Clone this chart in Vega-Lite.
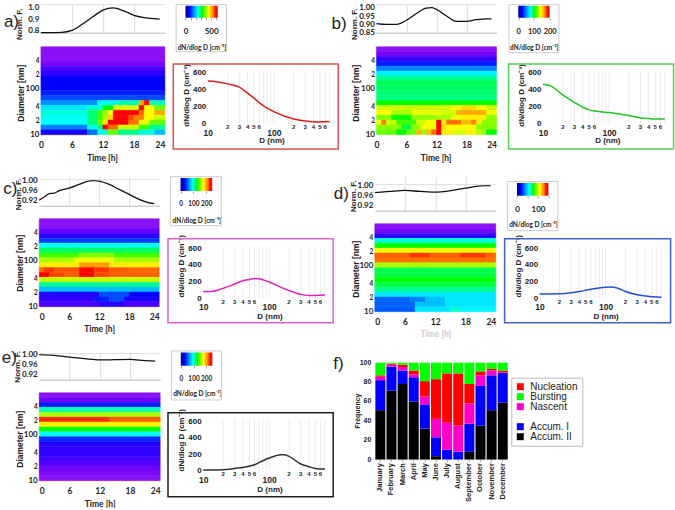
{
"$schema":"https://vega.github.io/schema/vega-lite/v6.json",
"background":"white",
"padding":{"left":1.2,"top":3.7,"right":0,"bottom":0},
"config":{"view":{"stroke":null},"axis":{"labelFont":"Lato","titleFont":"Lato","labelFontWeight":"bold","titleFontWeight":"bold","labelColor":"#222","titleColor":"#222","grid":false,"domain":false,"ticks":false,"tickCount":10}},
"datasets":{
"grid":[{"D":20,"n":"2"},{"D":30,"n":"3"},{"D":40,"n":"4"},{"D":50,"n":"5"},{"D":60,"n":"6"},{"D":70,"n":""},{"D":80,"n":""},{"D":90,"n":""},{"D":100,"n":""},{"D":200,"n":"2"},{"D":300,"n":"3"},{"D":400,"n":"4"},{"D":500,"n":"5"},{"D":600,"n":"6"},{"D":700,"n":""}],
"normA":[{"t":0,"f":0.78},{"t":2,"f":0.78},{"t":4,"f":0.782},{"t":6,"f":0.8},{"t":8,"f":0.855},{"t":10,"f":0.92},{"t":12,"f":0.98},{"t":14,"f":1},{"t":16,"f":0.975},{"t":18,"f":0.935},{"t":20,"f":0.915},{"t":22,"f":0.905},{"t":23,"f":0.9}],
"normB":[{"t":0,"f":0.905},{"t":2,"f":0.9},{"t":4,"f":0.9},{"t":6,"f":0.925},{"t":8,"f":0.965},{"t":10,"f":0.998},{"t":11,"f":1},{"t":12,"f":0.99},{"t":14,"f":0.95},{"t":16,"f":0.918},{"t":18,"f":0.918},{"t":20,"f":0.928},{"t":22,"f":0.933},{"t":23,"f":0.933}],
"normC":[{"t":0,"f":0.922},{"t":1,"f":0.935},{"t":2,"f":0.948},{"t":3,"f":0.95},{"t":4,"f":0.96},{"t":6,"f":0.97},{"t":8,"f":0.985},{"t":10,"f":0.999},{"t":11,"f":1},{"t":12,"f":0.998},{"t":14,"f":0.985},{"t":16,"f":0.965},{"t":18,"f":0.945},{"t":20,"f":0.925},{"t":22,"f":0.911},{"t":23,"f":0.908}],
"normD":[{"t":0,"f":0.972},{"t":3,"f":0.977},{"t":6,"f":0.981},{"t":9,"f":0.977},{"t":12,"f":0.974},{"t":15,"f":0.98},{"t":18,"f":0.99},{"t":20,"f":0.997},{"t":22,"f":1},{"t":23,"f":1}],
"normE":[{"t":0,"f":1},{"t":3,"f":0.997},{"t":6,"f":0.99},{"t":9,"f":0.984},{"t":12,"f":0.979},{"t":15,"f":0.98},{"t":18,"f":0.981},{"t":21,"f":0.976},{"t":23,"f":0.974}],
"sizeA":[{"D":10,"n":500},{"D":12,"n":495},{"D":15,"n":485},{"D":20,"n":465},{"D":30,"n":426},{"D":40,"n":355},{"D":50,"n":296},{"D":60,"n":245},{"D":70,"n":205},{"D":100,"n":138},{"D":200,"n":51},{"D":300,"n":28},{"D":400,"n":18},{"D":500,"n":16},{"D":700,"n":20}],
"sizeB":[{"D":10,"n":462},{"D":13,"n":442},{"D":20,"n":335},{"D":30,"n":245},{"D":40,"n":190},{"D":50,"n":158},{"D":60,"n":146},{"D":70,"n":138},{"D":100,"n":126},{"D":150,"n":107},{"D":200,"n":91},{"D":300,"n":63},{"D":400,"n":55},{"D":500,"n":51},{"D":700,"n":51}],
"sizeC":[{"D":10,"n":80},{"D":13,"n":80},{"D":20,"n":117},{"D":30,"n":169},{"D":40,"n":209},{"D":50,"n":225},{"D":60,"n":237},{"D":70,"n":233},{"D":100,"n":193},{"D":200,"n":89},{"D":300,"n":44},{"D":400,"n":32},{"D":500,"n":32},{"D":700,"n":36}],
"sizeD":[{"D":10,"n":48},{"D":20,"n":51},{"D":30,"n":63},{"D":40,"n":79},{"D":60,"n":107},{"D":80,"n":122},{"D":100,"n":130},{"D":120,"n":134},{"D":150,"n":122},{"D":200,"n":79},{"D":300,"n":39},{"D":400,"n":24},{"D":500,"n":16},{"D":700,"n":8}],
"sizeE":[{"D":10,"n":8},{"D":20,"n":12},{"D":30,"n":28},{"D":40,"n":40},{"D":60,"n":72},{"D":80,"n":120},{"D":100,"n":153},{"D":150,"n":193},{"D":170,"n":193},{"D":200,"n":173},{"D":300,"n":81},{"D":400,"n":48},{"D":500,"n":28},{"D":700,"n":20}],
"heatA":[
{"t":0,"t2":24,"d":391,"d2":813,"v":0},{"t":0,"t2":24,"d":307,"d2":391,"v":3},{"t":0,"t2":24,"d":240,"d2":307,"v":8},{"t":0,"t2":24,"d":188,"d2":240,"v":12},{"t":0,"t2":24,"d":90.2,"d2":188,"v":15},{"t":0,"t2":24,"d":70.6,"d2":90.2,"v":16},{"t":0,"t2":24,"d":55.3,"d2":70.6,"v":20},
{"t":0,"t2":11,"d":43.3,"d2":55.3,"v":27},{"t":11,"t2":15,"d":43.3,"d2":55.3,"v":35},{"t":15,"t2":19,"d":43.3,"d2":55.3,"v":40},{"t":19,"t2":20,"d":43.3,"d2":55.3,"v":80},{"t":20,"t2":21,"d":43.3,"d2":55.3,"v":100},{"t":21,"t2":24,"d":43.3,"d2":55.3,"v":40},
{"t":0,"t2":9,"d":33.9,"d2":43.3,"v":33},{"t":9,"t2":12,"d":33.9,"d2":43.3,"v":38},{"t":12,"t2":14,"d":33.9,"d2":43.3,"v":50},{"t":14,"t2":19,"d":33.9,"d2":43.3,"v":66},{"t":19,"t2":20,"d":33.9,"d2":43.3,"v":100},{"t":20,"t2":22,"d":33.9,"d2":43.3,"v":70},{"t":22,"t2":24,"d":33.9,"d2":43.3,"v":55},
{"t":0,"t2":9,"d":26.6,"d2":33.9,"v":38},{"t":9,"t2":11,"d":26.6,"d2":33.9,"v":45},{"t":11,"t2":12,"d":26.6,"d2":33.9,"v":52},{"t":12,"t2":13,"d":26.6,"d2":33.9,"v":60},{"t":13,"t2":14,"d":26.6,"d2":33.9,"v":70},{"t":14,"t2":19,"d":26.6,"d2":33.9,"v":100},{"t":19,"t2":20,"d":26.6,"d2":33.9,"v":90},{"t":20,"t2":22,"d":26.6,"d2":33.9,"v":70},{"t":22,"t2":24,"d":26.6,"d2":33.9,"v":80},
{"t":0,"t2":9,"d":20.8,"d2":26.6,"v":36},{"t":9,"t2":11,"d":20.8,"d2":26.6,"v":45},{"t":11,"t2":12,"d":20.8,"d2":26.6,"v":52},{"t":12,"t2":13,"d":20.8,"d2":26.6,"v":62},{"t":13,"t2":14,"d":20.8,"d2":26.6,"v":75},{"t":14,"t2":17,"d":20.8,"d2":26.6,"v":100},{"t":17,"t2":18,"d":20.8,"d2":26.6,"v":95},{"t":18,"t2":20,"d":20.8,"d2":26.6,"v":85},{"t":20,"t2":22,"d":20.8,"d2":26.6,"v":70},{"t":22,"t2":24,"d":20.8,"d2":26.6,"v":65},
{"t":0,"t2":9,"d":16.3,"d2":20.8,"v":35},{"t":9,"t2":11,"d":16.3,"d2":20.8,"v":45},{"t":11,"t2":12,"d":16.3,"d2":20.8,"v":55},{"t":12,"t2":13,"d":16.3,"d2":20.8,"v":72},{"t":13,"t2":17,"d":16.3,"d2":20.8,"v":100},{"t":17,"t2":19,"d":16.3,"d2":20.8,"v":88},{"t":19,"t2":21,"d":16.3,"d2":20.8,"v":68},{"t":21,"t2":24,"d":16.3,"d2":20.8,"v":55},
{"t":0,"t2":9,"d":12.8,"d2":16.3,"v":26},{"t":9,"t2":11,"d":12.8,"d2":16.3,"v":37},{"t":11,"t2":12,"d":12.8,"d2":16.3,"v":45},{"t":12,"t2":13,"d":12.8,"d2":16.3,"v":100},{"t":13,"t2":15,"d":12.8,"d2":16.3,"v":90},{"t":15,"t2":19,"d":12.8,"d2":16.3,"v":65},{"t":19,"t2":21,"d":12.8,"d2":16.3,"v":52},{"t":21,"t2":24,"d":12.8,"d2":16.3,"v":42},
{"t":0,"t2":9,"d":10,"d2":12.8,"v":14},{"t":9,"t2":11,"d":10,"d2":12.8,"v":25},{"t":11,"t2":13,"d":10,"d2":12.8,"v":37},{"t":13,"t2":15,"d":10,"d2":12.8,"v":55},{"t":15,"t2":19,"d":10,"d2":12.8,"v":43},{"t":19,"t2":22,"d":10,"d2":12.8,"v":38},{"t":22,"t2":24,"d":10,"d2":12.8,"v":30}],
"heatB":[
{"t":0,"t2":24,"d":638,"d2":813,"v":0},{"t":0,"t2":24,"d":500,"d2":638,"v":3},{"t":0,"t2":24,"d":391,"d2":500,"v":10},{"t":0,"t2":24,"d":307,"d2":391,"v":16},{"t":0,"t2":24,"d":240,"d2":307,"v":26},{"t":0,"t2":24,"d":188,"d2":240,"v":34},{"t":0,"t2":24,"d":147,"d2":188,"v":42},{"t":0,"t2":24,"d":115,"d2":147,"v":47},{"t":0,"t2":24,"d":90.2,"d2":115,"v":46},{"t":0,"t2":24,"d":70.6,"d2":90.2,"v":45},{"t":0,"t2":24,"d":55.3,"d2":70.6,"v":43},{"t":0,"t2":24,"d":43.3,"d2":55.3,"v":50},
{"t":0,"t2":15,"d":33.9,"d2":43.3,"v":65},{"t":15,"t2":17,"d":33.9,"d2":43.3,"v":70},{"t":17,"t2":20,"d":33.9,"d2":43.3,"v":74},{"t":20,"t2":22,"d":33.9,"d2":43.3,"v":70},{"t":22,"t2":24,"d":33.9,"d2":43.3,"v":65},
{"t":0,"t2":3,"d":26.6,"d2":33.9,"v":70},{"t":3,"t2":7,"d":26.6,"d2":33.9,"v":62},{"t":7,"t2":13,"d":26.6,"d2":33.9,"v":68},{"t":13,"t2":16,"d":26.6,"d2":33.9,"v":65},{"t":16,"t2":22,"d":26.6,"d2":33.9,"v":80},{"t":22,"t2":24,"d":26.6,"d2":33.9,"v":68},
{"t":0,"t2":3,"d":20.8,"d2":26.6,"v":58},{"t":3,"t2":7,"d":20.8,"d2":26.6,"v":50},{"t":7,"t2":12,"d":20.8,"d2":26.6,"v":60},{"t":12,"t2":15,"d":20.8,"d2":26.6,"v":62},{"t":15,"t2":17,"d":20.8,"d2":26.6,"v":68},{"t":17,"t2":22,"d":20.8,"d2":26.6,"v":72},{"t":22,"t2":24,"d":20.8,"d2":26.6,"v":60},
{"t":0,"t2":1,"d":16.3,"d2":20.8,"v":68},{"t":1,"t2":2,"d":16.3,"d2":20.8,"v":85},{"t":2,"t2":4,"d":16.3,"d2":20.8,"v":65},{"t":4,"t2":8,"d":16.3,"d2":20.8,"v":52},{"t":8,"t2":10,"d":16.3,"d2":20.8,"v":66},{"t":10,"t2":12,"d":16.3,"d2":20.8,"v":70},{"t":12,"t2":13,"d":16.3,"d2":20.8,"v":100},{"t":13,"t2":14,"d":16.3,"d2":20.8,"v":72},{"t":14,"t2":17,"d":16.3,"d2":20.8,"v":88},{"t":17,"t2":19,"d":16.3,"d2":20.8,"v":78},{"t":19,"t2":20,"d":16.3,"d2":20.8,"v":85},{"t":20,"t2":21,"d":16.3,"d2":20.8,"v":72},{"t":21,"t2":24,"d":16.3,"d2":20.8,"v":60},
{"t":0,"t2":5,"d":12.8,"d2":16.3,"v":59},{"t":5,"t2":7,"d":12.8,"d2":16.3,"v":48},{"t":7,"t2":9,"d":12.8,"d2":16.3,"v":60},{"t":9,"t2":12,"d":12.8,"d2":16.3,"v":69},{"t":12,"t2":13,"d":12.8,"d2":16.3,"v":100},{"t":13,"t2":14,"d":12.8,"d2":16.3,"v":75},{"t":14,"t2":20,"d":12.8,"d2":16.3,"v":70},{"t":20,"t2":24,"d":12.8,"d2":16.3,"v":58},
{"t":0,"t2":4,"d":10,"d2":12.8,"v":55},{"t":4,"t2":6,"d":10,"d2":12.8,"v":50},{"t":6,"t2":8,"d":10,"d2":12.8,"v":55},{"t":8,"t2":9,"d":10,"d2":12.8,"v":78},{"t":9,"t2":10,"d":10,"d2":12.8,"v":60},{"t":10,"t2":11,"d":10,"d2":12.8,"v":78},{"t":11,"t2":12,"d":10,"d2":12.8,"v":90},{"t":12,"t2":13,"d":10,"d2":12.8,"v":100},{"t":13,"t2":15,"d":10,"d2":12.8,"v":72},{"t":15,"t2":18,"d":10,"d2":12.8,"v":66},{"t":18,"t2":20,"d":10,"d2":12.8,"v":72},{"t":20,"t2":22,"d":10,"d2":12.8,"v":62},{"t":22,"t2":24,"d":10,"d2":12.8,"v":50}],
"heatC":[
{"t":0,"t2":24,"d":500,"d2":813,"v":0},{"t":0,"t2":24,"d":391,"d2":500,"v":5},{"t":0,"t2":24,"d":307,"d2":391,"v":12},{"t":0,"t2":24,"d":240,"d2":307,"v":18},{"t":0,"t2":24,"d":188,"d2":240,"v":36},{"t":0,"t2":24,"d":147,"d2":188,"v":46},
{"t":0,"t2":8,"d":115,"d2":147,"v":52},{"t":8,"t2":15,"d":115,"d2":147,"v":58},{"t":15,"t2":24,"d":115,"d2":147,"v":52},
{"t":0,"t2":7,"d":90.2,"d2":115,"v":62},{"t":7,"t2":15,"d":90.2,"d2":115,"v":68},{"t":15,"t2":24,"d":90.2,"d2":115,"v":62},
{"t":0,"t2":8,"d":70.6,"d2":90.2,"v":72},{"t":8,"t2":14,"d":70.6,"d2":90.2,"v":82},{"t":14,"t2":24,"d":70.6,"d2":90.2,"v":72},
{"t":0,"t2":1,"d":55.3,"d2":70.6,"v":90},{"t":1,"t2":3,"d":55.3,"d2":70.6,"v":97},{"t":3,"t2":8,"d":55.3,"d2":70.6,"v":93},{"t":8,"t2":11,"d":55.3,"d2":70.6,"v":100},{"t":11,"t2":14,"d":55.3,"d2":70.6,"v":97},{"t":14,"t2":18,"d":55.3,"d2":70.6,"v":92},{"t":18,"t2":24,"d":55.3,"d2":70.6,"v":90},
{"t":0,"t2":2,"d":43.3,"d2":55.3,"v":100},{"t":2,"t2":5,"d":43.3,"d2":55.3,"v":95},{"t":5,"t2":8,"d":43.3,"d2":55.3,"v":91},{"t":8,"t2":11,"d":43.3,"d2":55.3,"v":100},{"t":11,"t2":14,"d":43.3,"d2":55.3,"v":95},{"t":14,"t2":24,"d":43.3,"d2":55.3,"v":91},
{"t":0,"t2":24,"d":33.9,"d2":43.3,"v":65},{"t":0,"t2":24,"d":26.6,"d2":33.9,"v":42},{"t":0,"t2":24,"d":20.8,"d2":26.6,"v":30},
{"t":0,"t2":12,"d":16.3,"d2":20.8,"v":13},{"t":12,"t2":18,"d":16.3,"d2":20.8,"v":20},{"t":18,"t2":24,"d":16.3,"d2":20.8,"v":15},
{"t":0,"t2":11,"d":12.8,"d2":16.3,"v":12},{"t":11,"t2":14,"d":12.8,"d2":16.3,"v":16},{"t":14,"t2":17,"d":12.8,"d2":16.3,"v":20},{"t":17,"t2":24,"d":12.8,"d2":16.3,"v":14},
{"t":0,"t2":12,"d":10,"d2":12.8,"v":8},{"t":12,"t2":17,"d":10,"d2":12.8,"v":13},{"t":17,"t2":24,"d":10,"d2":12.8,"v":8}],
"heatD":[
{"t":0,"t2":24,"d":638,"d2":813,"v":0},{"t":0,"t2":24,"d":500,"d2":638,"v":3},{"t":0,"t2":24,"d":391,"d2":500,"v":12},{"t":0,"t2":24,"d":307,"d2":391,"v":38},{"t":0,"t2":24,"d":240,"d2":307,"v":50},{"t":0,"t2":24,"d":188,"d2":240,"v":70},
{"t":0,"t2":7,"d":147,"d2":188,"v":91},{"t":7,"t2":11,"d":147,"d2":188,"v":97},{"t":11,"t2":17,"d":147,"d2":188,"v":91},{"t":17,"t2":22,"d":147,"d2":188,"v":97},{"t":22,"t2":24,"d":147,"d2":188,"v":91},
{"t":0,"t2":24,"d":115,"d2":147,"v":88},{"t":0,"t2":24,"d":90.2,"d2":115,"v":62},{"t":0,"t2":24,"d":70.6,"d2":90.2,"v":47},{"t":0,"t2":24,"d":55.3,"d2":70.6,"v":48},{"t":0,"t2":24,"d":43.3,"d2":55.3,"v":50},{"t":0,"t2":24,"d":33.9,"d2":43.3,"v":48},{"t":0,"t2":24,"d":26.6,"d2":33.9,"v":42},{"t":0,"t2":24,"d":20.8,"d2":26.6,"v":33},
{"t":0,"t2":7,"d":16.3,"d2":20.8,"v":24},{"t":7,"t2":10,"d":16.3,"d2":20.8,"v":26},{"t":10,"t2":14,"d":16.3,"d2":20.8,"v":30},{"t":14,"t2":24,"d":16.3,"d2":20.8,"v":33},
{"t":0,"t2":8,"d":12.8,"d2":16.3,"v":23},{"t":8,"t2":14,"d":12.8,"d2":16.3,"v":30},{"t":14,"t2":24,"d":12.8,"d2":16.3,"v":33},
{"t":0,"t2":8,"d":10,"d2":12.8,"v":22},{"t":8,"t2":15,"d":10,"d2":12.8,"v":33},{"t":15,"t2":17,"d":10,"d2":12.8,"v":38},{"t":17,"t2":24,"d":10,"d2":12.8,"v":34}],
"heatE":[
{"t":0,"t2":24,"d":638,"d2":813,"v":0},{"t":0,"t2":24,"d":500,"d2":638,"v":4},{"t":0,"t2":24,"d":391,"d2":500,"v":16},{"t":0,"t2":24,"d":307,"d2":391,"v":40},{"t":0,"t2":24,"d":240,"d2":307,"v":62},
{"t":0,"t2":14,"d":188,"d2":240,"v":98},{"t":14,"t2":24,"d":188,"d2":240,"v":92},
{"t":0,"t2":24,"d":147,"d2":188,"v":72},{"t":0,"t2":24,"d":115,"d2":147,"v":50},{"t":0,"t2":24,"d":90.2,"d2":115,"v":35},{"t":0,"t2":24,"d":70.6,"d2":90.2,"v":17},{"t":0,"t2":24,"d":55.3,"d2":70.6,"v":13},{"t":0,"t2":24,"d":33.9,"d2":55.3,"v":12},{"t":0,"t2":24,"d":26.6,"d2":33.9,"v":10},{"t":0,"t2":24,"d":20.8,"d2":26.6,"v":7},{"t":0,"t2":24,"d":16.3,"d2":20.8,"v":4},{"t":0,"t2":24,"d":12.8,"d2":16.3,"v":2},{"t":0,"t2":24,"d":10,"d2":12.8,"v":0}],
"freq":[
{"m":"January","s":"Accum. II","k":1,"n":51},{"m":"January","s":"Accum. I","k":2,"n":31},{"m":"January","s":"Nascent","k":3,"n":3.5},{"m":"January","s":"Nucleation","k":4,"n":1.5},{"m":"January","s":"Bursting","k":5,"n":13},
{"m":"February","s":"Accum. II","k":1,"n":71},{"m":"February","s":"Accum. I","k":2,"n":25},{"m":"February","s":"Nascent","k":3,"n":2},{"m":"February","s":"Nucleation","k":4,"n":1},{"m":"February","s":"Bursting","k":5,"n":1},
{"m":"March","s":"Accum. II","k":1,"n":78},{"m":"March","s":"Accum. I","k":2,"n":14},{"m":"March","s":"Nascent","k":3,"n":3.5},{"m":"March","s":"Nucleation","k":4,"n":2.5},{"m":"March","s":"Bursting","k":5,"n":2},
{"m":"April","s":"Accum. II","k":1,"n":60},{"m":"April","s":"Accum. I","k":2,"n":25},{"m":"April","s":"Nascent","k":3,"n":3},{"m":"April","s":"Nucleation","k":4,"n":4},{"m":"April","s":"Bursting","k":5,"n":8},
{"m":"May","s":"Accum. II","k":1,"n":32},{"m":"May","s":"Accum. I","k":2,"n":25},{"m":"May","s":"Nascent","k":3,"n":8},{"m":"May","s":"Nucleation","k":4,"n":16},{"m":"May","s":"Bursting","k":5,"n":19},
{"m":"June","s":"Accum. II","k":1,"n":3.5},{"m":"June","s":"Accum. I","k":2,"n":19.5},{"m":"June","s":"Nascent","k":3,"n":19},{"m":"June","s":"Nucleation","k":4,"n":41},{"m":"June","s":"Bursting","k":5,"n":17},
{"m":"July","s":"Accum. II","k":1,"n":0},{"m":"July","s":"Accum. I","k":2,"n":10},{"m":"July","s":"Nascent","k":3,"n":28},{"m":"July","s":"Nucleation","k":4,"n":51},{"m":"July","s":"Bursting","k":5,"n":11},
{"m":"August","s":"Accum. II","k":1,"n":0},{"m":"August","s":"Accum. I","k":2,"n":8},{"m":"August","s":"Nascent","k":3,"n":27},{"m":"August","s":"Nucleation","k":4,"n":54},{"m":"August","s":"Bursting","k":5,"n":11},
{"m":"September","s":"Accum. II","k":1,"n":8},{"m":"September","s":"Accum. I","k":2,"n":29},{"m":"September","s":"Nascent","k":3,"n":21},{"m":"September","s":"Nucleation","k":4,"n":20},{"m":"September","s":"Bursting","k":5,"n":22},
{"m":"October","s":"Accum. II","k":1,"n":35},{"m":"October","s":"Accum. I","k":2,"n":41},{"m":"October","s":"Nascent","k":3,"n":11},{"m":"October","s":"Nucleation","k":4,"n":4},{"m":"October","s":"Bursting","k":5,"n":9},
{"m":"November","s":"Accum. II","k":1,"n":51},{"m":"November","s":"Accum. I","k":2,"n":36},{"m":"November","s":"Nascent","k":3,"n":5},{"m":"November","s":"Nucleation","k":4,"n":1.5},{"m":"November","s":"Bursting","k":5,"n":6.5},
{"m":"December","s":"Accum. II","k":1,"n":59},{"m":"December","s":"Accum. I","k":2,"n":30.5},{"m":"December","s":"Nascent","k":3,"n":0.5},{"m":"December","s":"Nucleation","k":4,"n":2},{"m":"December","s":"Bursting","k":5,"n":8}]
},
"columns":4,
"bounds":"flush",
"spacing":{"row":8,"column":2.8},
"concat":[
{"width":125.7,"height":28,"encoding":{"x":{"field":"t","type":"quantitative","scale":{"domain":[-0.33,24],"nice":false},"axis":{"values":[6,12,18],"labels":false,"title":null,"grid":true,"gridColor":"#ddd","domain":true,"domainColor":"#bbb"}}},"layer":[
 {"data":{"name":"normA"},"mark":{"type":"line","color":"#111","strokeWidth":1.3,"interpolate":"monotone"},"encoding":{"y":{"field":"f","type":"quantitative","scale":{"domain":[0.78,1.029],"nice":false,"zero":false},"axis":{"offset":-1.7,"values":[0.8,0.9,1],"tickCount":10,"format":".1f","labelOverlap":false,"title":"Norm. F.","labelFontSize":8,"labelPadding":2,"titleFont":"Liberation Sans","titleFontSize":8,"titleX":-21,"titleY":19,"titleAlign":"center","titleBaseline":"middle"}}}},
 {"data":{"values":[{"t":0,"t2":24}]},"mark":{"type":"rule","color":"#ddd"},"encoding":{"x2":{"field":"t2"},"y":{"datum":1.029}}},
 {"data":{"values":[{"t":0,"p":"a)"}]},"mark":{"type":"text","align":"left","baseline":"middle","fontSize":17,"font":"Liberation Sans","color":"#222","dx":-37},"encoding":{"y":{"datum":0.877},"text":{"field":"p"}}}
]},
{"width":204,"height":33.7,"encoding":{"x":{"field":"a","type":"quantitative","scale":{"domain":[-340,3628],"nice":false},"axis":{"offset":-20.7,"values":[0,100,200,300,400,500,600],"labelExpr":"datum.value==0||datum.value==500?datum.label:''","format":"d","labelOverlap":false,"ticks":true,"tickSize":2,"tickColor":"#999","labelPadding":8,"labelFontSize":8,"title":"dN/dlog D [cm⁻³]","titleFontSize":6.5,"titleX":33.5,"titleY":29.7,"titleAlign":"center","titleBaseline":"middle"}},"x2":{"field":"b"},"y":{"datum":0,"scale":{"domain":[0,33.7],"reverse":true,"nice":false},"axis":null}},"layer":[
 {"data":{"values":[{"a":-181,"b":798}]},"mark":{"type":"rect","fill":"transparent","stroke":"#ccc"},"encoding":{"y2":{"datum":47}}},
 {"data":{"values":[{"a":0,"b":629}]},"mark":{"type":"rect","fill":{"x1":0,"y1":0,"x2":1,"y2":0,"gradient":"linear","stops":[{"offset":0,"color":"#0000a0"},{"offset":0.12,"color":"#0000ff"},{"offset":0.28,"color":"#00a0ff"},{"offset":0.38,"color":"#00ffff"},{"offset":0.52,"color":"#00ff00"},{"offset":0.72,"color":"#ffff00"},{"offset":0.85,"color":"#ff8000"},{"offset":0.94,"color":"#ff0000"},{"offset":1,"color":"#c03020"}]}},"encoding":{"y":{"datum":1},"y2":{"datum":13}}}
]},
{"width":121.7,"height":28,"encoding":{"x":{"field":"t","type":"quantitative","scale":{"domain":[-0.34,24],"nice":false},"axis":{"values":[6,12,18],"labels":false,"title":null,"grid":true,"gridColor":"#ddd","domain":true,"domainColor":"#bbb"}}},"layer":[
 {"data":{"name":"normB"},"mark":{"type":"line","color":"#111","strokeWidth":1.3,"interpolate":"monotone"},"encoding":{"y":{"field":"f","type":"quantitative","scale":{"domain":[0.85,1.018],"nice":false,"zero":false},"axis":{"offset":-1.7,"values":[0.85,0.9,0.95,1],"tickCount":10,"format":".2f","labelOverlap":false,"title":"Norm. F.","labelFontSize":8,"labelPadding":2,"titleFont":"Liberation Sans","titleFontSize":8,"titleX":-21.5,"titleY":19,"titleAlign":"center","titleBaseline":"middle"}}}},
 {"data":{"values":[{"t":0,"t2":24}]},"mark":{"type":"rule","color":"#ddd"},"encoding":{"x2":{"field":"t2"},"y":{"datum":1.018}}},
 {"data":{"values":[{"t":0,"p":"b)"}]},"mark":{"type":"text","align":"left","baseline":"middle","fontSize":17,"font":"Liberation Sans","color":"#222","dx":-45},"encoding":{"y":{"datum":0.9},"text":{"field":"p"}}}
]},
{"width":169,"height":33.7,"encoding":{"x":{"field":"a","type":"quantitative","scale":{"domain":[-87,989],"nice":false},"axis":{"offset":-20.7,"values":[0,100,200],"format":"d","labelOverlap":false,"ticks":true,"tickSize":2,"tickColor":"#999","labelPadding":8,"labelFontSize":7.5,"title":"dN/dlog D [cm⁻³]","titleFontSize":6.5,"titleX":29.2,"titleY":29.7,"titleAlign":"center","titleBaseline":"middle"}},"x2":{"field":"b"},"y":{"datum":0,"scale":{"domain":[0,33.7],"reverse":true,"nice":false},"axis":null}},"layer":[
 {"data":{"values":[{"a":-59,"b":259}]},"mark":{"type":"rect","fill":"transparent","stroke":"#ccc"},"encoding":{"y2":{"datum":48}}},
 {"data":{"values":[{"a":0,"b":200}]},"mark":{"type":"rect","fill":{"x1":0,"y1":0,"x2":1,"y2":0,"gradient":"linear","stops":[{"offset":0,"color":"#0000a0"},{"offset":0.12,"color":"#0000ff"},{"offset":0.28,"color":"#00a0ff"},{"offset":0.38,"color":"#00ffff"},{"offset":0.52,"color":"#00ff00"},{"offset":0.72,"color":"#ffff00"},{"offset":0.85,"color":"#ff8000"},{"offset":0.94,"color":"#ff0000"},{"offset":1,"color":"#c03020"}]}},"encoding":{"y":{"datum":1},"y2":{"datum":13}}}
]},
{"data":{"name":"heatA"},"width":125.7,"height":88,"mark":{"type":"rect","strokeWidth":0.5},"encoding":{
 "x":{"field":"t","type":"quantitative","scale":{"domain":[-0.33,24],"nice":false},"axis":{"values":[0,6,12,18,24],"title":"Time [h]","labelFontSize":8.5,"titleFontSize":8.5,"labelPadding":6,"titlePadding":4}},"x2":{"field":"t2"},
 "y":{"field":"d","type":"quantitative","scale":{"type":"log","domain":[10,813],"nice":false},"axis":{"offset":-1.7,"values":[10,20,40,100,200,400],"labelExpr":"datum.value==10?'10':datum.value==100?'100':datum.value==20||datum.value==200?'2':'4'","labelOverlap":false,"labelFontSize":{"condition":{"test":"datum.value==10||datum.value==100","value":8},"value":6.5},"labelPadding":2,"title":"Diameter  [nm]","titleFont":"Liberation Sans","titleFontSize":8.5,"titleX":-20,"titleY":46,"titleAlign":"center","titleBaseline":"middle"}},"y2":{"field":"d2"},
 "color":{"field":"v","type":"quantitative","legend":null,"scale":{"domain":[0,8,15,25,35,42,50,60,70,85,100],"range":["#8a10f5","#4a00ff","#0000ff","#0070ff","#00ffff","#00ff90","#00ff00","#90ff00","#ffff00","#ff8000","#ff0000"]}},
 "stroke":{"field":"v","type":"quantitative","legend":null,"scale":{"domain":[0,8,15,25,35,42,50,60,70,85,100],"range":["#8a10f5","#4a00ff","#0000ff","#0070ff","#00ffff","#00ff90","#00ff00","#90ff00","#ffff00","#ff8000","#ff0000"]}}}},
{"width":204,"height":121.3,"encoding":{"x":{"field":"D","type":"quantitative","scale":{"type":"log","domain":[2.49,3076],"nice":false},"axis":{"offset":-44.7,"values":[10,100],"format":"d","labelFont":"Liberation Sans","titleFont":"Liberation Sans","labelFontSize":8.5,"labelPadding":5,"title":"D (nm)","titleFontSize":8,"titleX":103.5,"titleY":17.7,"titleAlign":"center","titleBaseline":"middle"}}},"layer":[
 {"data":{"values":[{"D":2.99,"D2":946}]},"mark":{"type":"rect","fill":"transparent","stroke":"#e05050","strokeWidth":1.5},"encoding":{"x2":{"field":"D2"},"y":{"datum":-303},"y2":{"datum":700}}},
 {"data":{"name":"grid"},"mark":{"type":"rule","color":"#e4e4e4","strokeWidth":0.7},"encoding":{"y":{"datum":0},"y2":{"datum":620}}},
 {"data":{"name":"grid"},"mark":{"type":"text","fontSize":6,"fontWeight":"bold","font":"Liberation Sans","color":"#222"},"encoding":{"y":{"datum":-45},"text":{"field":"n"}}},
 {"data":{"name":"sizeA"},"mark":{"type":"line","color":"#d02020","strokeWidth":1.5,"interpolate":"monotone"},"encoding":{"y":{"field":"n","type":"quantitative","scale":{"domain":[-528,904],"nice":false},"axis":{"offset":-39.8,"values":[0,200,400,600],"tickCount":10,"labelOverlap":false,"labelFont":"Liberation Sans","titleFont":"Liberation Sans","labelFontSize":8,"title":"dN/dlog D (cm⁻³)","titleFontSize":8,"titleX":-21.5,"titleY":48.3,"titleAlign":"center","titleBaseline":"middle"}}}}
]},
{"data":{"name":"heatB"},"width":121.7,"height":88,"mark":{"type":"rect","strokeWidth":0.5},"encoding":{
 "x":{"field":"t","type":"quantitative","scale":{"domain":[-0.34,24],"nice":false},"axis":{"values":[0,6,12,18,24],"title":"Time [h]","labelFontSize":8.5,"titleFontSize":8.5,"labelPadding":6,"titlePadding":4}},"x2":{"field":"t2"},
 "y":{"field":"d","type":"quantitative","scale":{"type":"log","domain":[10,813],"nice":false},"axis":{"offset":-1.7,"values":[10,20,40,100,200,400],"labelExpr":"datum.value==10?'10':datum.value==100?'100':datum.value==20||datum.value==200?'2':'4'","labelOverlap":false,"labelFontSize":{"condition":{"test":"datum.value==10||datum.value==100","value":8},"value":6.5},"labelPadding":2,"title":"Diameter  [nm]","titleFont":"Liberation Sans","titleFontSize":8.5,"titleX":-20.5,"titleY":46,"titleAlign":"center","titleBaseline":"middle"}},"y2":{"field":"d2"},
 "color":{"field":"v","type":"quantitative","legend":null,"scale":{"domain":[0,8,15,25,35,42,50,60,70,85,100],"range":["#8a10f5","#4a00ff","#0000ff","#0070ff","#00ffff","#00ff90","#00ff00","#90ff00","#ffff00","#ff8000","#ff0000"]}},
 "stroke":{"field":"v","type":"quantitative","legend":null,"scale":{"domain":[0,8,15,25,35,42,50,60,70,85,100],"range":["#8a10f5","#4a00ff","#0000ff","#0070ff","#00ffff","#00ff90","#00ff00","#90ff00","#ffff00","#ff8000","#ff0000"]}}}},
{"width":169,"height":121.3,"encoding":{"x":{"field":"D","type":"quantitative","scale":{"type":"log","domain":[2.62,952],"nice":false},"axis":{"offset":-44.7,"values":[10,100],"format":"d","labelFont":"Liberation Sans","titleFont":"Liberation Sans","labelFontSize":8.5,"labelPadding":5,"title":"D (nm)","titleFontSize":8,"titleX":102.7,"titleY":17.7,"titleAlign":"center","titleBaseline":"middle"}}},"layer":[
 {"data":{"values":[{"D":3.01,"D2":952}]},"mark":{"type":"rect","fill":"transparent","stroke":"#55d055","strokeWidth":1.5},"encoding":{"x2":{"field":"D2"},"y":{"datum":-303},"y2":{"datum":700}}},
 {"data":{"name":"grid"},"mark":{"type":"rule","color":"#e4e4e4","strokeWidth":0.7},"encoding":{"y":{"datum":0},"y2":{"datum":620}}},
 {"data":{"name":"grid"},"mark":{"type":"text","fontSize":6,"fontWeight":"bold","font":"Liberation Sans","color":"#222"},"encoding":{"y":{"datum":-45},"text":{"field":"n"}}},
 {"data":{"name":"sizeB"},"mark":{"type":"line","color":"#22c422","strokeWidth":1.5,"interpolate":"monotone"},"encoding":{"y":{"field":"n","type":"quantitative","scale":{"domain":[-528,904],"nice":false},"axis":{"offset":-38.4,"values":[0,200,400,600],"tickCount":10,"labelOverlap":false,"labelFont":"Liberation Sans","titleFont":"Liberation Sans","labelFontSize":8,"title":"dN/dlog D (cm⁻³)","titleFontSize":8,"titleX":-21.5,"titleY":48.3,"titleAlign":"center","titleBaseline":"middle"}}}}
]},
{"width":120,"height":29,"encoding":{"x":{"field":"t","type":"quantitative","scale":{"domain":[0,24],"nice":false},"axis":{"values":[6,12,18],"labels":false,"title":null,"grid":true,"gridColor":"#ddd","domain":true,"domainColor":"#bbb"}}},"layer":[
 {"data":{"name":"normC"},"mark":{"type":"line","color":"#111","strokeWidth":1.3,"interpolate":"monotone"},"encoding":{"y":{"field":"f","type":"quantitative","scale":{"domain":[0.9,1.016],"nice":false,"zero":false},"axis":{"values":[0.92,0.96,1],"tickCount":10,"format":".2f","labelOverlap":false,"title":"Norm. F.","labelFontSize":8,"labelPadding":2,"titleFont":"Liberation Sans","titleFontSize":8,"titleX":-21,"titleY":17.3,"titleAlign":"center","titleBaseline":"middle"}}}},
 {"data":{"values":[{"t":0,"t2":24}]},"mark":{"type":"rule","color":"#ddd"},"encoding":{"x2":{"field":"t2"},"y":{"datum":1.004}}},
 {"data":{"values":[{"t":0,"p":"c)"}]},"mark":{"type":"text","align":"left","baseline":"middle","fontSize":17,"font":"Liberation Sans","color":"#222","dx":-36},"encoding":{"y":{"datum":0.968},"text":{"field":"p"}}}
]},
{"width":204,"height":34,"encoding":{"x":{"field":"a","type":"quantitative","scale":{"domain":[-98,1496],"nice":false},"axis":{"offset":-19.7,"values":[0,100,200],"format":"d","labelOverlap":false,"ticks":true,"tickSize":2,"tickColor":"#999","labelPadding":8,"labelFontSize":6.5,"title":"dN/dlog D [cm⁻³]","titleFontSize":6.5,"titleX":28.3,"titleY":29.7,"titleAlign":"center","titleBaseline":"middle"}},"x2":{"field":"b"},"y":{"datum":0,"scale":{"domain":[0,34],"reverse":true,"nice":false},"axis":null}},"layer":[
 {"data":{"values":[{"a":-78,"b":318}]},"mark":{"type":"rect","fill":"transparent","stroke":"#ccc"},"encoding":{"y2":{"datum":49}}},
 {"data":{"values":[{"a":0,"b":248}]},"mark":{"type":"rect","fill":{"x1":0,"y1":0,"x2":1,"y2":0,"gradient":"linear","stops":[{"offset":0,"color":"#0000a0"},{"offset":0.12,"color":"#0000ff"},{"offset":0.28,"color":"#00a0ff"},{"offset":0.38,"color":"#00ffff"},{"offset":0.52,"color":"#00ff00"},{"offset":0.72,"color":"#ffff00"},{"offset":0.85,"color":"#ff8000"},{"offset":0.94,"color":"#ff0000"},{"offset":1,"color":"#c03020"}]}},"encoding":{"y":{"datum":1.3},"y2":{"datum":14.3}}}
]},
{"width":121,"height":34,"encoding":{"x":{"field":"t","type":"quantitative","scale":{"domain":[0,24],"nice":false},"axis":{"values":[6,12,18],"labels":false,"title":null,"grid":true,"gridColor":"#ddd","domain":true,"domainColor":"#bbb"}}},"layer":[
 {"data":{"name":"normD"},"mark":{"type":"line","color":"#111","strokeWidth":1.3,"interpolate":"monotone"},"encoding":{"y":{"field":"f","type":"quantitative","scale":{"domain":[0.9,1.036],"nice":false,"zero":false},"axis":{"values":[0.92,0.96,1],"tickCount":10,"format":".2f","labelOverlap":false,"title":"Norm. F.","labelFontSize":8,"labelPadding":2,"titleFont":"Liberation Sans","titleFontSize":8,"titleX":-21.5,"titleY":19,"titleAlign":"center","titleBaseline":"middle"}}}},
 {"data":{"values":[{"t":0,"t2":24}]},"mark":{"type":"rule","color":"#ddd"},"encoding":{"x2":{"field":"t2"},"y":{"datum":1.004}}},
 {"data":{"values":[{"t":0,"p":"d)"}]},"mark":{"type":"text","align":"left","baseline":"middle","fontSize":17,"font":"Liberation Sans","color":"#222","dx":-41},"encoding":{"y":{"datum":0.968},"text":{"field":"p"}}}
]},
{"width":169,"height":34,"encoding":{"x":{"field":"a","type":"quantitative","scale":{"domain":[-59,746],"nice":false},"axis":{"offset":-15,"values":[0,50,100,150],"labelExpr":"datum.value==50||datum.value==150?'':datum.label","format":"d","labelOverlap":false,"ticks":true,"tickSize":2,"tickColor":"#999","labelPadding":8,"labelFontSize":8,"title":"dN/dlog D [cm⁻³]","titleFontSize":6.5,"titleX":28.4,"titleY":29,"titleAlign":"center","titleBaseline":"middle"}},"x2":{"field":"b"},"y":{"datum":0,"scale":{"domain":[0,34],"reverse":true,"nice":false},"axis":null}},"layer":[
 {"data":{"values":[{"a":-46,"b":195}]},"mark":{"type":"rect","fill":"transparent","stroke":"#ccc"},"encoding":{"y":{"datum":4.7},"y2":{"datum":54}}},
 {"data":{"values":[{"a":0,"b":150}]},"mark":{"type":"rect","fill":{"x1":0,"y1":0,"x2":1,"y2":0,"gradient":"linear","stops":[{"offset":0,"color":"#0000a0"},{"offset":0.12,"color":"#0000ff"},{"offset":0.28,"color":"#00a0ff"},{"offset":0.38,"color":"#00ffff"},{"offset":0.52,"color":"#00ff00"},{"offset":0.72,"color":"#ffff00"},{"offset":0.85,"color":"#ff8000"},{"offset":0.94,"color":"#ff0000"},{"offset":1,"color":"#c03020"}]}},"encoding":{"y":{"datum":6.3},"y2":{"datum":19}}}
]},
{"data":{"name":"heatC"},"width":120,"height":88,"mark":{"type":"rect","strokeWidth":0.5},"encoding":{
 "x":{"field":"t","type":"quantitative","scale":{"domain":[0,24],"nice":false},"axis":{"values":[0,6,12,18,24],"title":"Time [h]","labelFontSize":8.5,"titleFontSize":8.5,"labelPadding":6,"titlePadding":3}},"x2":{"field":"t2"},
 "y":{"field":"d","type":"quantitative","scale":{"type":"log","domain":[10,813],"nice":false},"axis":{"values":[10,20,40,100,200,400],"labelExpr":"datum.value==10?'10':datum.value==100?'100':datum.value==20||datum.value==200?'2':'4'","labelOverlap":false,"labelFontSize":{"condition":{"test":"datum.value==10||datum.value==100","value":8},"value":6.5},"labelPadding":2,"title":"Diameter  [nm]","titleFont":"Liberation Sans","titleFontSize":8.5,"titleX":-19.5,"titleY":44,"titleAlign":"center","titleBaseline":"middle"}},"y2":{"field":"d2"},
 "color":{"field":"v","type":"quantitative","legend":null,"scale":{"domain":[0,8,15,25,35,42,50,60,70,85,100],"range":["#8a10f5","#4a00ff","#0000ff","#0070ff","#00ffff","#00ff90","#00ff00","#90ff00","#ffff00","#ff8000","#ff0000"]}},
 "stroke":{"field":"v","type":"quantitative","legend":null,"scale":{"domain":[0,8,15,25,35,42,50,60,70,85,100],"range":["#8a10f5","#4a00ff","#0000ff","#0070ff","#00ffff","#00ff90","#00ff00","#90ff00","#ffff00","#ff8000","#ff0000"]}}}},
{"width":204,"height":124,"encoding":{"x":{"field":"D","type":"quantitative","scale":{"type":"log","domain":[2.93,3614],"nice":false},"axis":{"offset":-44.7,"values":[10,100],"format":"d","labelFont":"Liberation Sans","titleFont":"Liberation Sans","labelFontSize":8.5,"labelPadding":5,"title":"D (nm)","titleFontSize":8,"titleX":101.5,"titleY":18.3,"titleAlign":"center","titleBaseline":"middle"}}},"layer":[
 {"data":{"values":[{"D":2.93,"D2":933}]},"mark":{"type":"rect","fill":"transparent","stroke":"#e060d0","strokeWidth":1.5},"encoding":{"x2":{"field":"D2"},"y":{"datum":-299},"y2":{"datum":717}}},
 {"data":{"name":"grid"},"mark":{"type":"rule","color":"#e4e4e4","strokeWidth":0.7},"encoding":{"y":{"datum":0},"y2":{"datum":620}}},
 {"data":{"name":"grid"},"mark":{"type":"text","fontSize":6,"fontWeight":"bold","font":"Liberation Sans","color":"#222"},"encoding":{"y":{"datum":-45},"text":{"field":"n"}}},
 {"data":{"name":"sizeC"},"mark":{"type":"line","color":"#e020c0","strokeWidth":1.5,"interpolate":"monotone"},"encoding":{"y":{"field":"n","type":"quantitative","scale":{"domain":[-540,959],"nice":false},"axis":{"offset":-35.2,"values":[0,200,400,600],"tickCount":10,"labelOverlap":false,"labelFont":"Liberation Sans","titleFont":"Liberation Sans","labelFontSize":8,"title":"dN/dlog D (cm⁻³)","titleFontSize":8,"titleX":-21.5,"titleY":47,"titleAlign":"center","titleBaseline":"middle"}}}}
]},
{"data":{"name":"heatD"},"width":121,"height":93,"mark":{"type":"rect","strokeWidth":0.5},"encoding":{
 "x":{"field":"t","type":"quantitative","scale":{"domain":[0,24],"nice":false},"axis":{"values":[0,6,12,18,24],"title":"Time [h]","titleColor":"#ccc","titleFontSize":8.5,"titlePadding":3,"labelFontSize":8.5,"labelPadding":6}},"x2":{"field":"t2"},
 "y":{"field":"d","type":"quantitative","scale":{"type":"log","domain":[10,1045],"nice":false},"axis":{"values":[10,20,40,100,200,400],"labelExpr":"datum.value==10?'10':datum.value==100?'100':datum.value==20||datum.value==200?'2':'4'","labelOverlap":false,"labelFontSize":{"condition":{"test":"datum.value==10||datum.value==100","value":8},"value":6.5},"labelPadding":2,"title":"Diameter  [nm]","titleFont":"Liberation Sans","titleFontSize":8.5,"titleX":-19.5,"titleY":50,"titleAlign":"center","titleBaseline":"middle"}},"y2":{"field":"d2"},
 "color":{"field":"v","type":"quantitative","legend":null,"scale":{"domain":[0,8,15,25,35,42,50,60,70,85,100],"range":["#8a10f5","#4a00ff","#0000ff","#0070ff","#00ffff","#00ff90","#00ff00","#90ff00","#ffff00","#ff8000","#ff0000"]}},
 "stroke":{"field":"v","type":"quantitative","legend":null,"scale":{"domain":[0,8,15,25,35,42,50,60,70,85,100],"range":["#8a10f5","#4a00ff","#0000ff","#0070ff","#00ffff","#00ff90","#00ff00","#90ff00","#ffff00","#ff8000","#ff0000"]}}}},
{"width":169,"height":124,"encoding":{"x":{"field":"D","type":"quantitative","scale":{"type":"log","domain":[2.95,1072],"nice":false},"axis":{"offset":-44.7,"values":[10,100],"format":"d","labelFont":"Liberation Sans","titleFont":"Liberation Sans","labelFontSize":8.5,"labelPadding":5,"title":"D (nm)","titleFontSize":8,"titleX":101,"titleY":18.3,"titleAlign":"center","titleBaseline":"middle"}}},"layer":[
 {"data":{"values":[{"D":2.95,"D2":966}]},"mark":{"type":"rect","fill":"transparent","stroke":"#4060d0","strokeWidth":1.5},"encoding":{"x2":{"field":"D2"},"y":{"datum":-299},"y2":{"datum":717}}},
 {"data":{"name":"grid"},"mark":{"type":"rule","color":"#e4e4e4","strokeWidth":0.7},"encoding":{"y":{"datum":0},"y2":{"datum":620}}},
 {"data":{"name":"grid"},"mark":{"type":"text","fontSize":6,"fontWeight":"bold","font":"Liberation Sans","color":"#222"},"encoding":{"y":{"datum":-45},"text":{"field":"n"}}},
 {"data":{"name":"sizeD"},"mark":{"type":"line","color":"#2050d0","strokeWidth":1.5,"interpolate":"monotone"},"encoding":{"y":{"field":"n","type":"quantitative","scale":{"domain":[-540,959],"nice":false},"axis":{"offset":-35,"values":[0,200,400,600],"tickCount":10,"labelOverlap":false,"labelFont":"Liberation Sans","titleFont":"Liberation Sans","labelFontSize":8,"title":"dN/dlog D (cm⁻³)","titleFontSize":8,"titleX":-21.5,"titleY":47,"titleAlign":"center","titleBaseline":"middle"}}}}
]},
{"width":121,"height":29,"encoding":{"x":{"field":"t","type":"quantitative","scale":{"domain":[0,24],"nice":false},"axis":{"values":[6,12,18],"labels":false,"title":null,"grid":true,"gridColor":"#ddd","domain":true,"domainColor":"#bbb"}}},"layer":[
 {"data":{"name":"normE"},"mark":{"type":"line","color":"#111","strokeWidth":1.3,"interpolate":"monotone"},"encoding":{"y":{"field":"f","type":"quantitative","scale":{"domain":[0.9,1.016],"nice":false,"zero":false},"axis":{"values":[0.92,0.96,1],"tickCount":10,"format":".2f","labelOverlap":false,"title":"Norm. F.","labelFontSize":8,"labelPadding":2,"titleFont":"Liberation Sans","titleFontSize":8,"titleX":-21.5,"titleY":15.7,"titleAlign":"center","titleBaseline":"middle"}}}},
 {"data":{"values":[{"t":0,"t2":24}]},"mark":{"type":"rule","color":"#ddd"},"encoding":{"x2":{"field":"t2"},"y":{"datum":1.004}}},
 {"data":{"values":[{"t":0,"p":"e)"}]},"mark":{"type":"text","align":"left","baseline":"middle","fontSize":17,"font":"Liberation Sans","color":"#222","dx":-37.5},"encoding":{"y":{"datum":0.988},"text":{"field":"p"}}}
]},
{"width":204,"height":34,"encoding":{"x":{"field":"a","type":"quantitative","scale":{"domain":[-101,1506],"nice":false},"axis":{"offset":-19,"values":[0,100,200],"format":"d","labelOverlap":false,"ticks":true,"tickSize":2,"tickColor":"#999","labelPadding":8,"labelFontSize":6.5,"title":"dN/dlog D [cm⁻³]","titleFontSize":6.5,"titleX":29,"titleY":28,"titleAlign":"center","titleBaseline":"middle"}},"x2":{"field":"b"},"y":{"datum":0,"scale":{"domain":[0,34],"reverse":true,"nice":false},"axis":null}},"layer":[
 {"data":{"values":[{"a":-73,"b":320}]},"mark":{"type":"rect","fill":"transparent","stroke":"#ccc"},"encoding":{"y":{"datum":0.3},"y2":{"datum":49.3}}},
 {"data":{"values":[{"a":0,"b":249}]},"mark":{"type":"rect","fill":{"x1":0,"y1":0,"x2":1,"y2":0,"gradient":"linear","stops":[{"offset":0,"color":"#0000a0"},{"offset":0.12,"color":"#0000ff"},{"offset":0.28,"color":"#00a0ff"},{"offset":0.38,"color":"#00ffff"},{"offset":0.52,"color":"#00ff00"},{"offset":0.72,"color":"#ffff00"},{"offset":0.85,"color":"#ff8000"},{"offset":0.94,"color":"#ff0000"},{"offset":1,"color":"#c03020"}]}},"encoding":{"y":{"datum":1.7},"y2":{"datum":15}}}
]},
{"width":126.2,"height":34,"encoding":{"x":{"field":"m","type":"nominal","sort":null,"scale":{"range":[0,133.5],"paddingInner":0.1,"paddingOuter":0.05},"axis":{"offset":75,"labelAngle":-90,"labelFont":"Liberation Sans","labelFontSize":7.5,"labelPadding":1,"title":null,"ticks":true,"tickSize":2,"tickColor":"#999"}}},"layer":[
 {"data":{"name":"freq"},"mark":"bar","encoding":{"y":{"field":"n","type":"quantitative","stack":"zero","scale":{"domain":[77.3,112.4],"nice":false,"zero":false},"axis":{"values":[80,100],"labels":false,"titleFont":"Liberation Sans","title":"Frequency","titleFontSize":7,"titleX":-16.8,"titleY":60,"titleAlign":"center","titleBaseline":"middle"}},"order":{"field":"k"},"color":{"field":"s","type":"nominal","scale":{"domain":["Nucleation","Bursting","Nascent"," ","Accum. I","Accum. II"],"range":["#ff0000","#00ff00","#ff00cc","#ffffff","#0000ff","#000000"]},"legend":{"title":null,"orient":"none","legendX":136.5,"legendY":27,"symbolType":"square","symbolSize":49,"symbolStrokeWidth":0,"labelFont":"Liberation Sans","labelFontSize":10,"labelColor":"#222","rowPadding":0,"strokeColor":"#bbb","padding":4,"labelOffset":5}}}},
 {"data":{"values":[{"n":0,"l":"0"},{"n":20,"l":"20"},{"n":40,"l":"40"},{"n":60,"l":"60"},{"n":80,"l":"80"},{"n":100,"l":"100"}]},"mark":{"type":"text","align":"right","baseline":"middle","fontSize":7,"fontWeight":"bold","font":"Liberation Sans","color":"#222","dx":-9},"encoding":{"x":{"datum":"January"},"y":{"field":"n","type":"quantitative"},"text":{"field":"l"}}},
 {"data":{"values":[{"p":"f)"}]},"mark":{"type":"text","align":"left","baseline":"middle","fontSize":17,"font":"Liberation Sans","color":"#222","dx":-47},"encoding":{"x":{"datum":"January"},"y":{"datum":99},"text":{"field":"p"}}}
]},
{"data":{"values":[]},"mark":"point","width":1,"height":1,"encoding":{}},
{"data":{"name":"heatE"},"width":121,"height":88,"mark":{"type":"rect","strokeWidth":0.5},"encoding":{
 "x":{"field":"t","type":"quantitative","scale":{"domain":[0,24],"nice":false},"axis":{"values":[0,6,12,18,24],"title":"Time [h]","labelFontSize":8.5,"titleFontSize":8.5,"labelPadding":6,"titlePadding":4}},"x2":{"field":"t2"},
 "y":{"field":"d","type":"quantitative","scale":{"type":"log","domain":[10,813],"nice":false},"axis":{"values":[10,20,40,100,200,400],"labelExpr":"datum.value==10?'10':datum.value==100?'100':datum.value==20||datum.value==200?'2':'4'","labelOverlap":false,"labelFontSize":{"condition":{"test":"datum.value==10||datum.value==100","value":8},"value":6.5},"labelPadding":2,"title":"Diameter  [nm]","titleFont":"Liberation Sans","titleFontSize":8.5,"titleX":-20,"titleY":46,"titleAlign":"center","titleBaseline":"middle"}},"y2":{"field":"d2"},
 "color":{"field":"v","type":"quantitative","legend":null,"scale":{"domain":[0,8,15,25,35,42,50,60,70,85,100],"range":["#8a10f5","#4a00ff","#0000ff","#0070ff","#00ffff","#00ff90","#00ff00","#90ff00","#ffff00","#ff8000","#ff0000"]}},
 "stroke":{"field":"v","type":"quantitative","legend":null,"scale":{"domain":[0,8,15,25,35,42,50,60,70,85,100],"range":["#8a10f5","#4a00ff","#0000ff","#0070ff","#00ffff","#00ff90","#00ff00","#90ff00","#ffff00","#ff8000","#ff0000"]}}}},
{"width":204,"height":104,"encoding":{"x":{"field":"D","type":"quantitative","scale":{"type":"log","domain":[2.93,3614],"nice":false},"axis":{"offset":-26,"values":[10,100],"format":"d","labelFont":"Liberation Sans","titleFont":"Liberation Sans","labelFontSize":8.5,"labelPadding":5,"title":"D (nm)","titleFontSize":8,"titleX":101.5,"titleY":18.7,"titleAlign":"center","titleBaseline":"middle"}}},"layer":[
 {"data":{"values":[{"D":2.93,"D2":933}]},"mark":{"type":"rect","fill":"transparent","stroke":"#202020","strokeWidth":1.5},"encoding":{"x2":{"field":"D2"},"y":{"datum":-314},"y2":{"datum":701}}},
 {"data":{"name":"grid"},"mark":{"type":"rule","color":"#e4e4e4","strokeWidth":0.7},"encoding":{"y":{"datum":0},"y2":{"datum":620}}},
 {"data":{"name":"grid"},"mark":{"type":"text","fontSize":6,"fontWeight":"bold","font":"Liberation Sans","color":"#222"},"encoding":{"y":{"datum":-45},"text":{"field":"n"}}},
 {"data":{"name":"sizeE"},"mark":{"type":"line","color":"#303030","strokeWidth":1.5,"interpolate":"monotone"},"encoding":{"y":{"field":"n","type":"quantitative","scale":{"domain":[-314,943],"nice":false},"axis":{"offset":-35.2,"values":[0,200,400,600],"tickCount":10,"labelOverlap":false,"labelFont":"Liberation Sans","titleFont":"Liberation Sans","labelFontSize":8,"title":"dN/dlog D (cm⁻³)","titleFontSize":8,"titleX":-21.5,"titleY":47,"titleAlign":"center","titleBaseline":"middle"}}}}
]}
]}
